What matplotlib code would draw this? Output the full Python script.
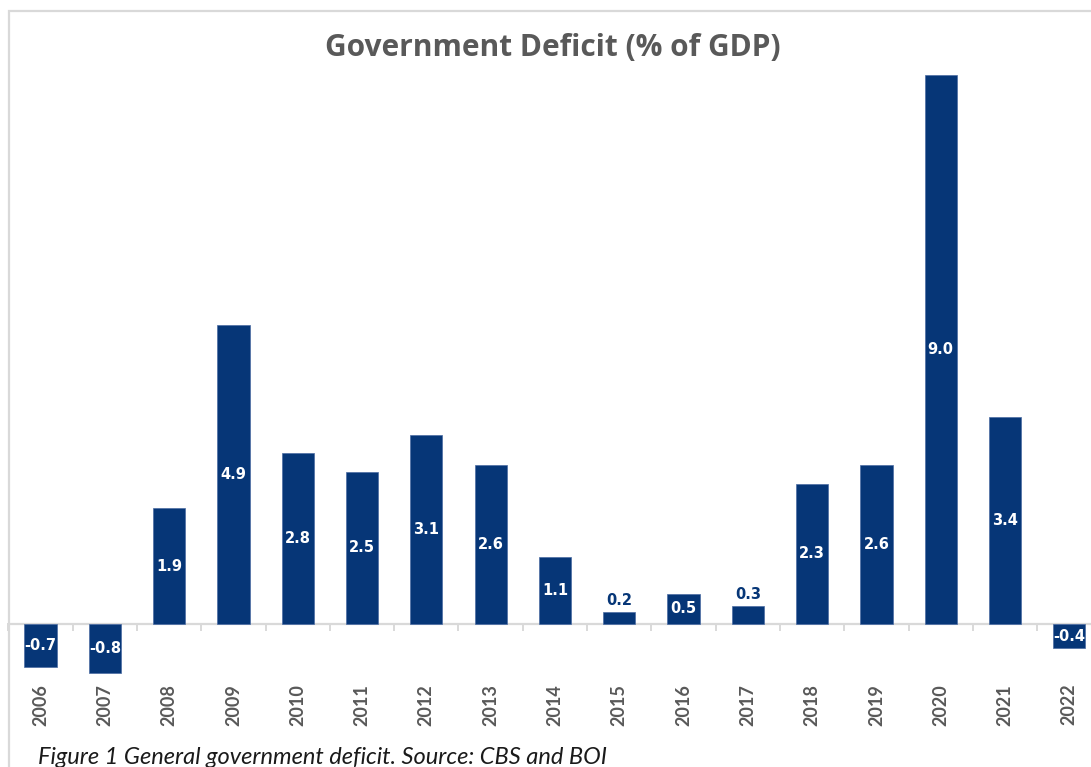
import matplotlib.pyplot as plt
import matplotlib.transforms as mtransforms
from matplotlib.patches import Rectangle

years = [str(y) for y in range(2006, 2023)]
deficit = [-0.7, -0.8, 1.9, 4.9, 2.8, 2.5, 3.1, 2.6, 1.1, 0.2, 0.5, 0.3,
           2.3, 2.6, 9.0, 3.4, -0.4]

navy = '#063677'
grey_txt = '#595959'
grey_line = '#D9D9D9'

W, H = 1091, 767
fig = plt.figure(figsize=(W / 100, H / 100), dpi=100)

# chart frame (only left and top edges are visible in the crop)
fig.patches.append(Rectangle((9 / W, -0.2), 1.2, 1.2 - 11 / H,
                             transform=fig.transFigure, fill=False,
                             edgecolor=grey_line, linewidth=1.6))

# axes placed so that zero sits at y=624px and each unit is 61px
step = 64.3
ymin, ymax = -1.0, 9.2
bottom_px = 624 + 61 * (-ymin)
top_px = 624 - 61 * ymax
ax = fig.add_axes([8.4 / W, 1 - bottom_px / H, len(years) * step / W,
                   (bottom_px - top_px) / H])
ax.set_xlim(-0.5, len(years) - 0.5)
ax.set_ylim(ymin, ymax)
ax.axis('off')

x = list(range(len(years)))
ax.bar(x, deficit, width=0.5, color=navy, edgecolor='#4a6ba3', linewidth=0.5, zorder=3)

# zero line with category boundary ticks
ax.axhline(0, color=grey_line, linewidth=1.6, zorder=2)
for b in range(len(years) + 1):
    ax.plot([b - 0.5, b - 0.5], [0, -0.1], color=grey_line, linewidth=1.4,
            zorder=2, clip_on=False)

# value labels
for xi, v in zip(x, deficit):
    if 0 <= v < 0.4:
        ax.annotate(f'{v:.1f}', (xi, v), xytext=(0, 3), textcoords='offset points',
                    ha='center', va='bottom', color=navy, fontsize=10.5,
                    fontweight='bold', zorder=4)
    else:
        ax.text(xi, v / 2, f'{v:.1f}', ha='center', va='center', color='white',
                fontsize=10.5, fontweight='bold', zorder=4)

# year labels below the plot area
trans = mtransforms.blended_transform_factory(ax.transData, ax.transAxes)
for xi, yr in zip(x, years):
    ax.text(xi, 0.002, yr, transform=trans, rotation=90, ha='center', va='top',
            color=grey_txt, fontsize=13, family='Lato', fontweight='bold')

fig.text(553 / W, 1 - 48 / H, 'Government Deficit (% of GDP)', ha='center',
         va='center', color=grey_txt, fontsize=21.5, fontweight='bold',
         family='Open Sans')

fig.text(38 / W, 2.5 / H, 'Figure 1 General government deficit. Source: CBS and BOI',
         ha='left', va='baseline', fontsize=17, style='italic', family='Lato',
         color='#1a1a1a')

fig.savefig('out.png', dpi=100)
